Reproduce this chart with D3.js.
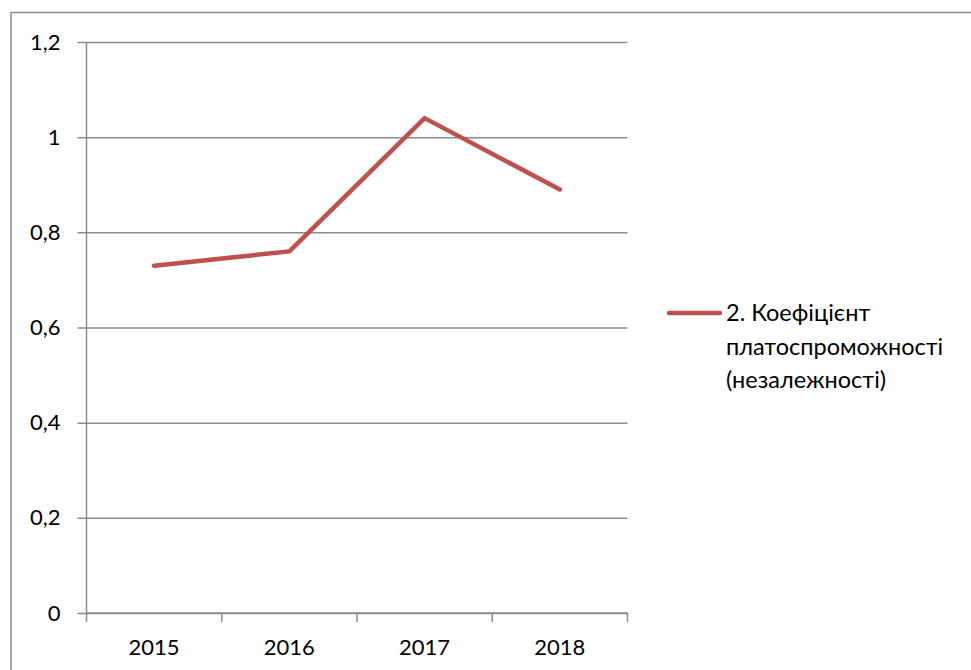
<!DOCTYPE html>
<html>
<head>
<meta charset="utf-8">
<script src="https://cdnjs.cloudflare.com/ajax/libs/d3/7.8.5/d3.min.js"></script>
<style>
  html, body { margin: 0; padding: 0; background: #fff; }
  svg { display: block; }
  text { font-family: Lato, "Open Sans", sans-serif; fill: #000; }
</style>
</head>
<body>
<svg id="chart" width="971" height="670"></svg>
<script>
// Years on the category axis
const years = ["2015", "2016", "2017", "2018"];
// Coefficient of solvency (independence) per year
const solvency = [0.73, 0.76, 1.04, 0.89];
// Value axis ticks and their labels (comma decimal separator)
const yTicks = [0, 0.2, 0.4, 0.6, 0.8, 1, 1.2];
const yTickLabels = ["0", "0,2", "0,4", "0,6", "0,8", "1", "1,2"];
const seriesName = ["2. Коефіцієнт", "платоспроможності", "(незалежності)"];

const svg = d3.select("#chart");
const plot = { left: 86.5, right: 627.5, top: 42, bottom: 613 };
const gridColor = "#8c8c8c";

// Outer chart frame
svg.append("path")
  .attr("d", "M11,670 V12.5 H971")
  .attr("fill", "none")
  .attr("stroke", gridColor)
  .attr("stroke-width", 1.5);

const x = d3.scaleBand().domain(years).range([plot.left, plot.right]);
const y = d3.scaleLinear().domain([0, 1.2]).range([plot.bottom, plot.top]);

// Horizontal gridlines with tick stubs to the left
const yAxis = d3.axisLeft(y)
  .tickValues(yTicks)
  .tickSize(-(plot.right - plot.left))
  .tickPadding(26)
  .tickFormat((d, i) => yTickLabels[i]);

const gy = svg.append("g")
  .attr("transform", `translate(${plot.left},0)`)
  .call(yAxis);
gy.select(".domain").remove();
gy.selectAll(".tick line")
  .attr("x1", -9)
  .attr("stroke", gridColor)
  .attr("stroke-width", 1.5);
gy.selectAll(".tick text")
  .attr("font-size", 22)
  .attr("font-family", "Lato, sans-serif")
  .attr("fill", "#000");

// Vertical value axis line
svg.append("line")
  .attr("x1", plot.left).attr("x2", plot.left)
  .attr("y1", plot.top).attr("y2", plot.bottom)
  .attr("stroke", gridColor)
  .attr("stroke-width", 1.5);

// Category axis with tick marks on band boundaries
const gx = svg.append("g")
  .attr("transform", `translate(0,${plot.bottom})`);
gx.append("line")
  .attr("x1", plot.left).attr("x2", plot.right)
  .attr("stroke", gridColor).attr("stroke-width", 1.5);
const bounds = years.map(d => x(d)).concat([x(years[years.length - 1]) + x.bandwidth()]);
gx.selectAll("line.tickmark")
  .data(bounds)
  .enter().append("line")
  .attr("class", "tickmark")
  .attr("x1", d => d).attr("x2", d => d)
  .attr("y1", 0).attr("y2", 9)
  .attr("stroke", gridColor).attr("stroke-width", 1.5);
gx.selectAll("text")
  .data(years)
  .enter().append("text")
  .attr("x", d => x(d) + x.bandwidth() / 2)
  .attr("y", 42)
  .attr("text-anchor", "middle")
  .attr("font-size", 22)
  .text(d => d);

// Series line
const line = d3.line()
  .x((d, i) => x(years[i]) + x.bandwidth() / 2)
  .y(d => y(d));
svg.append("path")
  .datum(solvency)
  .attr("d", line)
  .attr("fill", "none")
  .attr("stroke", "#c0504d")
  .attr("stroke-width", 4.5)
  .attr("stroke-linejoin", "round")
  .attr("stroke-linecap", "round");

// Legend
const legend = svg.append("g");
legend.append("line")
  .attr("x1", 669).attr("x2", 720)
  .attr("y1", 313).attr("y2", 313)
  .attr("stroke", "#c0504d")
  .attr("stroke-width", 4.5)
  .attr("stroke-linecap", "round");
legend.selectAll("text")
  .data(seriesName)
  .enter().append("text")
  .attr("x", 726)
  .attr("y", (d, i) => 321 + i * 33.5)
  .attr("font-size", 23.5)
  .text(d => d);
</script>
</body>
</html>
